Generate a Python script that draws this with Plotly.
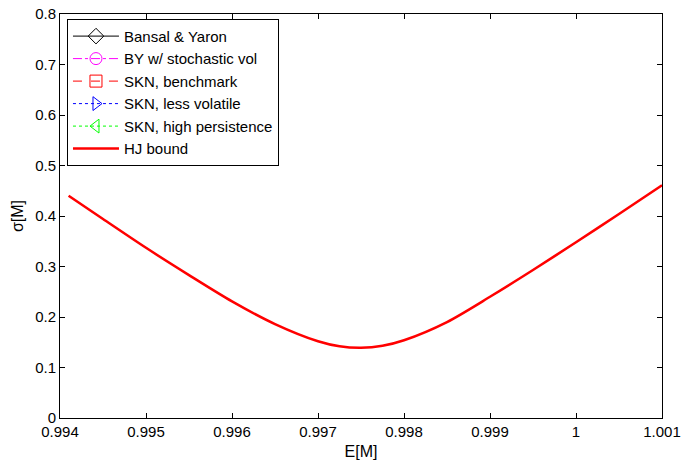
import plotly.graph_objects as go

# HJ bound
mean_m = [0.99410, 0.99450, 0.99500, 0.99550, 0.99600, 0.99650, 0.99700, 0.99725,
          0.99750, 0.99775, 0.99800, 0.99850, 0.99900, 0.99950, 1.00000, 1.00050, 1.00100]
sigma_m = [0.440, 0.394, 0.337, 0.283, 0.231, 0.186, 0.152, 0.142,
           0.139, 0.143, 0.154, 0.190, 0.240, 0.293, 0.348, 0.404, 0.461]

# model series appear only in the legend (no points within the plotted range)
model_names = ["Bansal & Yaron", "BY w/ stochastic vol", "SKN, benchmark",
               "SKN, less volatile", "SKN, high persistence"]
model_colors = ["black", "magenta", "red", "blue", "lime"]
model_symbols = ["diamond-open", "circle-open", "square-open",
                 "triangle-right-open", "triangle-left-open"]
model_dash = ["solid", "dashdot", "dash", "dot", "dot"]

x_ticks = [0.994, 0.995, 0.996, 0.997, 0.998, 0.999, 1.000, 1.001]
x_tick_text = ["0.994", "0.995", "0.996", "0.997", "0.998", "0.999", "1", "1.001"]
y_ticks = [0, 0.1, 0.2, 0.3, 0.4, 0.5, 0.6, 0.7, 0.8]
y_tick_text = ["0", "0.1", "0.2", "0.3", "0.4", "0.5", "0.6", "0.7", "0.8"]

fig = go.Figure()
for name, c, s, d in zip(model_names, model_colors, model_symbols, model_dash):
    fig.add_trace(go.Scatter(
        x=[None], y=[None], name=name, mode="lines+markers",
        line=dict(color=c, width=1, dash=d),
        marker=dict(symbol=s, size=12, color=c, line=dict(color=c, width=1)),
    ))
fig.add_trace(go.Scatter(
    x=mean_m, y=sigma_m, name="HJ bound", mode="lines",
    line=dict(color="red", width=2.5, shape="spline", smoothing=0.8),
))

axis_common = dict(
    showgrid=False, zeroline=False, showline=True, linecolor="black", linewidth=1,
    mirror="ticks", ticks="inside", ticklen=5, tickcolor="black", automargin=False,
    tickfont=dict(family="Liberation Sans, Arial", size=15, color="black"),
)
fig.update_layout(
    width=681, height=462,
    margin=dict(l=60, r=19, t=14, b=44),
    paper_bgcolor="white", plot_bgcolor="white",
    font=dict(family="Liberation Sans, Arial", size=15, color="black"),
    xaxis=dict(range=[0.994, 1.001], tickvals=x_ticks, ticktext=x_tick_text,
               title=dict(text="E[M]", font=dict(size=16), standoff=6), **axis_common),
    yaxis=dict(range=[0, 0.8], tickvals=y_ticks, ticktext=y_tick_text,
               title=dict(text="σ[M]", font=dict(size=16), standoff=7), **axis_common),
    legend=dict(x=0.0116, y=0.988, xanchor="left", yanchor="top",
                bgcolor="white", bordercolor="black", borderwidth=1,
                font=dict(size=15), tracegroupgap=0, itemwidth=46),
    showlegend=True,
)
fig.write_html("out.html")
